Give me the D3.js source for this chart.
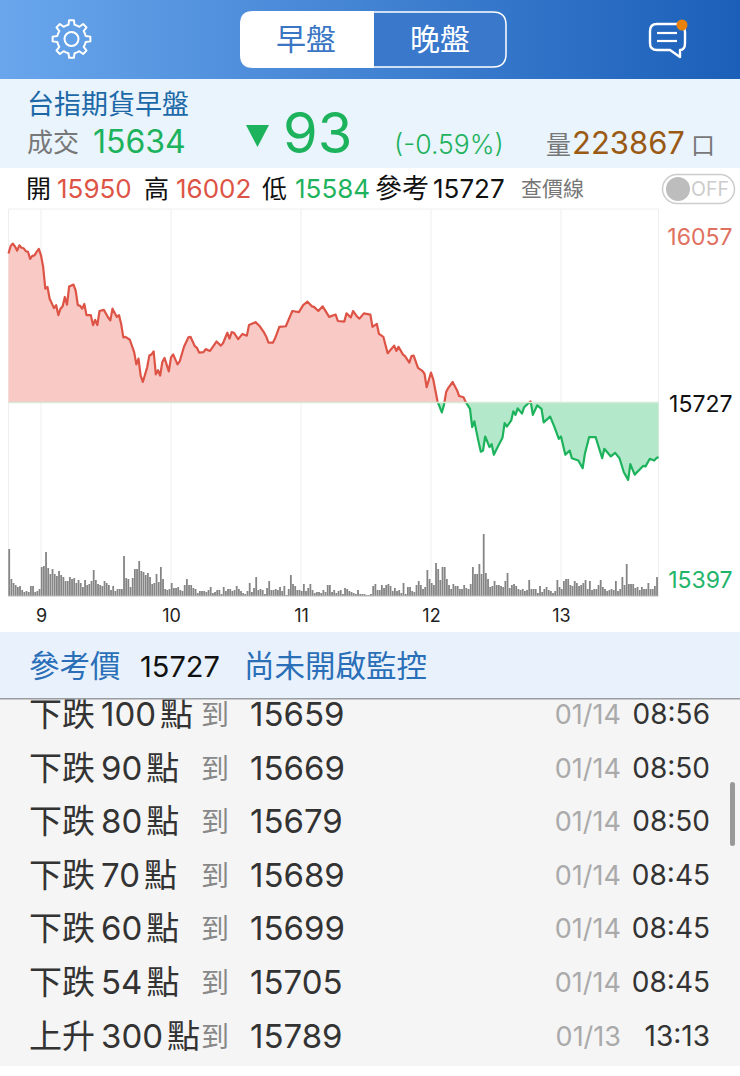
<!DOCTYPE html>
<html>
<head>
<meta charset="utf-8">
<script src="https://cdnjs.cloudflare.com/ajax/libs/d3/7.8.5/d3.min.js"></script>
<style>
  html, body { margin: 0; padding: 0; background: #fff; }
  svg { display: block; }
  text { font-family: "Inter", "Noto Sans CJK TC", sans-serif; }
</style>
</head>
<body>
<svg id="app" width="740" height="1076"></svg>
<script>
/*** DATA ***/
// minutes since 08:45, price
const priceMinutes = [0,1,2,3,4,5,6,7,8,9,10,11,12,13,14,15,16,17,18,19,21,22,23,24,25,26,27,28,30,31,32,33,34,35,36,38,39,40,41,42,44,46,47,48,50,51,52,53,54,56,58,59,60,61,62,64,65,66,67,68,69,70,71,72,74,75,76,78,79,81,83,84,86,87,88,90,91,93,96,98,99,101,102,103,104,106,108,110,111,114,116,118,119,120,122,123,125,128,131,134,136,138,140,141,143,145,147,148,151,152,155,156,158,159,161,162,164,167,168,170,171,173,175,178,179,180,182,183,185,186,187,189,191,192,193,195,196,198,200,201,202,203,205,207,208,210,211,213,214,215,217,218,219,220,222,223,224,226,228,229,230,232,233,234,235,237,238,240,241,242,244,246,247,250,252,254,255,257,259,260,263,265,266,268,271,274,275,278,280,282,284,286,287,289,293,294,296,298,299,300];
const priceValues = [15981,15994,15998,15993,15986,15995,15991,15990,15985,15984,15972,15977,15978,15984,15989,15978,15958,15921,15924,15904,15888,15893,15876,15887,15891,15907,15894,15925,15928,15918,15893,15892,15887,15895,15876,15876,15859,15868,15859,15883,15885,15872,15867,15887,15873,15876,15861,15838,15839,15834,15813,15792,15802,15773,15762,15787,15807,15809,15814,15775,15782,15773,15796,15803,15780,15804,15809,15792,15797,15822,15838,15839,15823,15820,15812,15813,15818,15815,15831,15824,15828,15846,15836,15847,15846,15835,15844,15841,15859,15864,15857,15846,15839,15829,15829,15836,15856,15857,15883,15881,15893,15899,15891,15890,15883,15891,15879,15873,15877,15866,15865,15879,15872,15883,15873,15870,15879,15877,15856,15861,15844,15839,15811,15824,15815,15822,15809,15806,15795,15806,15807,15786,15781,15776,15753,15778,15767,15729,15710,15723,15745,15752,15762,15748,15738,15736,15728,15716,15685,15695,15659,15643,15645,15669,15651,15656,15638,15653,15667,15692,15686,15696,15712,15706,15717,15708,15719,15726,15729,15706,15722,15716,15693,15703,15685,15665,15669,15638,15645,15632,15628,15615,15639,15668,15668,15632,15648,15635,15641,15632,15608,15595,15622,15604,15619,15618,15631,15628,15632,15634];
// one bar a minute, in relative units
const volumeValues = [47,17,13,11,9,10,6,4,5,4,10,10,4,5,7,29,30,44,28,22,27,22,20,25,21,19,15,15,19,17,18,13,16,13,9,16,11,12,15,26,16,12,11,10,15,13,11,6,10,5,7,7,7,40,18,17,9,18,27,27,35,25,24,21,23,19,12,13,22,14,29,17,7,6,7,13,8,8,9,6,5,11,17,11,11,8,7,3,5,5,5,4,6,9,3,4,6,6,2,9,5,7,7,5,6,10,7,5,3,2,5,13,4,8,19,6,7,6,2,8,15,6,6,7,6,9,5,10,1,7,21,12,10,6,6,5,12,5,8,12,6,3,4,4,3,6,4,11,11,4,6,3,5,6,2,8,7,5,4,3,2,6,2,2,2,1,1,2,10,12,6,6,11,8,11,12,10,5,8,5,6,3,13,2,9,9,5,4,11,15,11,7,9,26,17,13,11,33,27,16,29,29,17,11,7,12,10,10,7,7,11,8,7,12,29,22,22,32,22,62,23,17,9,10,15,11,11,10,9,15,23,8,11,12,10,7,6,7,5,6,16,7,7,7,3,10,4,7,9,6,5,3,5,16,9,7,15,17,17,11,10,15,13,10,11,13,16,7,15,6,7,7,11,16,9,7,5,6,7,6,15,5,7,19,11,32,12,12,12,8,9,6,9,7,7,13,7,7,10,19];
const hourTicks = [15, 75, 135, 195, 255];
const hourLabels = ["9", "10", "11", "12", "13"];
const priceTicks = [16057, 15727, 15397];
const refPrice = 15727;

const alertKinds = ["下跌", "下跌", "下跌", "下跌", "下跌", "下跌", "上升"];
const alertPoints = ["100", "90", "80", "70", "60", "54", "300"];
const alertPrices = ["15659", "15669", "15679", "15689", "15699", "15705", "15789"];
const alertDates = ["01/14", "01/14", "01/14", "01/14", "01/14", "01/14", "01/13"];
const alertTimes = ["08:56", "08:50", "08:50", "08:45", "08:45", "08:45", "13:13"];

/*** CONSTANTS ***/
const WIDTH = 740;
const HEIGHT = 1076;
const RED = "#dd5446", GREEN = "#1db25c", RED_FILL = "#f9c9c6", GREEN_FILL = "#b3e9ca";
const plot = { left: 8.5, right: 658.5, top: 209, bottom: 596, axisY: 631 };
const ROW_Y = [726, 780, 833, 887, 940, 994, 1048];

const svg = d3.select("#app");
const defs = svg.append("defs");

function label(parent, x, y, str, size, color, anchor) {
  return parent.append("text")
    .attr("x", x).attr("y", y)
    .attr("font-size", size)
    .attr("fill", color)
    .attr("text-anchor", anchor || "start")
    .text(str);
}

function clipRect(id, x, y, w, h) {
  defs.append("clipPath").attr("id", id).append("rect")
    .attr("x", x).attr("y", y).attr("width", w).attr("height", h);
}

/*** BACKGROUNDS ***/
const grad = defs.append("linearGradient").attr("id", "headGrad");
grad.append("stop").attr("offset", "0%").attr("stop-color", "#69a6ec");
grad.append("stop").attr("offset", "100%").attr("stop-color", "#1b5fb9");

svg.append("rect").attr("width", WIDTH).attr("height", 79).attr("fill", "url(#headGrad)");
svg.append("rect").attr("y", 79).attr("width", WIDTH).attr("height", 89).attr("fill", "#e9f4fd");
svg.append("rect").attr("y", 632).attr("width", WIDTH).attr("height", 66).attr("fill", "#e9f2fc");
svg.append("rect").attr("y", 698).attr("width", WIDTH).attr("height", 368).attr("fill", "#f5f5f5");
svg.append("rect").attr("y", 698).attr("width", WIDTH).attr("height", 1.5).attr("fill", "#9a9da0");

/*** HEADER ***/
function gearPath(cx, cy, rOut, rIn, teeth) {
  const p = d3.path();
  const step = Math.PI * 2 / teeth;
  for (let i = 0; i < teeth; i++) {
    const a = i * step - Math.PI / 2;
    const pts = [[rIn, a - step * 0.5], [rIn, a - step * 0.27], [rOut, a - step * 0.16], [rOut, a + step * 0.16], [rIn, a + step * 0.27]];
    pts.forEach((q, j) => {
      const px = cx + q[0] * Math.cos(q[1]), py = cy + q[0] * Math.sin(q[1]);
      if (i === 0 && j === 0) p.moveTo(px, py); else p.lineTo(px, py);
    });
  }
  p.closePath();
  return p.toString();
}

svg.append("path").attr("d", gearPath(71.5, 39, 19, 14.5, 8))
  .attr("fill", "none").attr("stroke", "#fff").attr("stroke-width", 2).attr("stroke-linejoin", "round");
svg.append("circle").attr("cx", 71.5).attr("cy", 39).attr("r", 7)
  .attr("fill", "none").attr("stroke", "#fff").attr("stroke-width", 2);

svg.append("path").attr("d", "M370,12 H493 Q506,12 506,25 V54 Q506,67 493,67 H370 Z")
  .attr("fill", "#3a78cc").attr("stroke", "#fff").attr("stroke-width", 1.5);
svg.append("path").attr("d", "M374,11 H253 Q240,11 240,24 V55 Q240,68 253,68 H374 Z").attr("fill", "#fff");
label(svg, 306, 50, "早盤", 30, "#3a76c4", "middle");
label(svg, 440, 50, "晚盤", 30, "#fff", "middle");

svg.append("path")
  .attr("d", "M657,24 H677 Q685,24 685,32 V43 Q685,50 680,50 V57 L670,50 H657 Q650,50 650,43 V31 Q650,24 657,24 Z")
  .attr("fill", "none").attr("stroke", "#fff").attr("stroke-width", 2.4).attr("stroke-linejoin", "round");
[33, 41].forEach(y => {
  svg.append("line").attr("x1", 657).attr("x2", 677).attr("y1", y).attr("y2", y)
    .attr("stroke", "#fff").attr("stroke-width", 2.2);
});
svg.append("circle").attr("cx", 682).attr("cy", 25).attr("r", 5.5).attr("fill", "#e8820e");

/*** QUOTE PANEL ***/
label(svg, 27, 114, "台指期貨早盤", 27, "#1d69a8");
label(svg, 27, 152, "成交", 26, "#777");
label(svg, 93, 153, "15634", 32, GREEN);
svg.append("path").attr("d", d3.line()([[246, 125], [269, 125], [257.5, 147]]) + "Z").attr("fill", GREEN);
label(svg, 283, 153, "93", 56, GREEN);
label(svg, 394, 154, "(-0.59%)", 26.5, GREEN).attr("font-weight", 300);
label(svg, 546, 154, "量", 25, "#777");
label(svg, 572, 154, "223867", 31, "#9a5a14");
label(svg, 691, 154, "口", 24, "#777");

label(svg, 26, 198, "開", 25, "#111");
label(svg, 57, 198, "15950", 26, RED);
label(svg, 144, 198, "高", 25, "#111");
label(svg, 176, 198, "16002", 26, RED);
label(svg, 262, 198, "低", 25, "#111");
label(svg, 295, 198, "15584", 26, GREEN);
label(svg, 375, 198, "參考", 27, "#111");
label(svg, 433, 198, "15727", 26, "#111");
label(svg, 521, 196, "查價線", 21, "#777");

svg.append("rect").attr("x", 662.5).attr("y", 174.5).attr("width", 72).attr("height", 29).attr("rx", 14.5)
  .attr("fill", "#fff").attr("stroke", "#ccc").attr("stroke-width", 1.5);
svg.append("circle").attr("cx", 678).attr("cy", 189).attr("r", 12).attr("fill", "#bdbdbd");
label(svg, 691, 196, "OFF", 19.5, "#ccc");

/*** CHART ***/
const x = d3.scaleLinear().domain([0, 300]).range([plot.left, plot.right]);
const y = d3.scaleLinear().domain([15397, 16057]).range([plot.bottom, plot.top]);
const yVol = d3.scaleLinear().domain([0, 63]).range([plot.bottom, 533]);
const priceData = priceMinutes.map((m, i) => ({ m: m, v: priceValues[i] }));

const grid = svg.append("g").attr("stroke", "#eeeeee").attr("stroke-width", 1);
[0].concat(hourTicks, [300]).forEach(m => {
  grid.append("line").attr("x1", x(m)).attr("x2", x(m)).attr("y1", plot.top).attr("y2", plot.bottom);
});
grid.append("line").attr("x1", plot.left).attr("x2", plot.right).attr("y1", plot.top).attr("y2", plot.top);

clipRect("above", 0, plot.top, WIDTH, y(refPrice) - plot.top);
clipRect("below", 0, y(refPrice), WIDTH, plot.bottom - y(refPrice));

const area = d3.area().x(d => x(d.m)).y0(y(refPrice)).y1(d => y(d.v));
const line = d3.line().x(d => x(d.m)).y(d => y(d.v));

[["above", RED_FILL, RED], ["below", GREEN_FILL, GREEN]].forEach(s => {
  const g = svg.append("g").attr("clip-path", "url(#" + s[0] + ")");
  g.append("path").datum(priceData).attr("d", area).attr("fill", s[1]);
  g.append("path").datum(priceData).attr("d", line)
    .attr("fill", "none").attr("stroke", s[2]).attr("stroke-width", 2.2).attr("stroke-linejoin", "round");
});
svg.append("line").attr("x1", plot.left).attr("x2", plot.right)
  .attr("y1", y(refPrice)).attr("y2", y(refPrice))
  .attr("stroke", "#d6ead6").attr("stroke-width", 1.6);

svg.append("g").attr("fill", "#858585")
  .selectAll("rect")
  .data(volumeValues)
  .join("rect")
  .attr("x", (d, i) => x(i) - 0.2)
  .attr("y", d => yVol(d))
  .attr("width", 1.8)
  .attr("height", d => yVol(0) - yVol(d));
svg.append("line").attr("x1", plot.left).attr("x2", plot.right).attr("y1", plot.bottom).attr("y2", plot.bottom)
  .attr("stroke", "#bbb");

const xAxis = svg.append("g")
  .attr("transform", `translate(0,${plot.bottom + 10})`)
  .call(d3.axisBottom(x).tickValues(hourTicks).tickFormat((d, i) => hourLabels[i]).tickSize(0));
xAxis.select(".domain").remove();
xAxis.selectAll("text").attr("font-size", 18).attr("fill", "#222").attr("font-family", null);

const priceColor = { 16057: "#e0705f", 15727: "#111", 15397: "#22b56a" };
const priceNudge = { 16057: 27, 15727: 1, 15397: -17 };
const yAxis = svg.append("g")
  .attr("transform", `translate(${plot.right},0)`)
  .call(d3.axisRight(y).tickValues(priceTicks).tickFormat(d3.format("d")).tickSize(0));
yAxis.select(".domain").remove();
yAxis.selectAll("text")
  .attr("x", 74).attr("text-anchor", "end")
  .attr("font-size", 23)
  .attr("fill", d => priceColor[d])
  .attr("font-family", null)
  .attr("dy", "0.36em")
  .attr("y", d => priceNudge[d]);

/*** ALERT LIST ***/
label(svg, 29, 677, "參考價", 30.5, "#2a6fb8");
label(svg, 140, 677, "15727", 29, "#111");
label(svg, 244, 677, "尚未開啟監控", 30.5, "#2a6fb8");

clipRect("listClip", 0, 699.5, WIDTH, 367);
const list = svg.append("g").attr("clip-path", "url(#listClip)");
alertKinds.forEach((kind, i) => {
  const t = label(list, 29, ROW_Y[i], kind, 33, "#333");
  t.append("tspan").attr("dx", 6).text(alertPoints[i]);
  t.append("tspan").attr("dx", 4).text("點");
  label(list, 201, ROW_Y[i] - 1, "到", 28, "#888");
  label(list, 250, ROW_Y[i], alertPrices[i], 33, "#333");
  label(list, 621, ROW_Y[i] - 2, alertDates[i], 27, "#aaa", "end");
  label(list, 710, ROW_Y[i] - 2, alertTimes[i], 28, "#333", "end");
});
svg.append("rect").attr("x", 730).attr("y", 782).attr("width", 5).attr("height", 64).attr("rx", 2.5).attr("fill", "#999");
</script>
</body>
</html>
